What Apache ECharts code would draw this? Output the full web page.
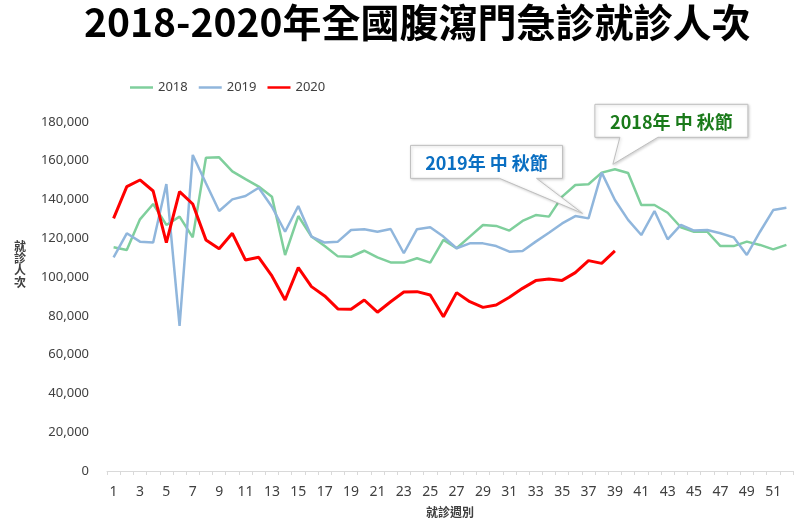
<!DOCTYPE html>
<html>
<head>
<meta charset="utf-8">
<script src="https://cdn.jsdelivr.net/npm/echarts@6/dist/echarts.min.js"></script>
<style>
html,body{margin:0;padding:0;background:#fff;}
#main{width:800px;height:518px;}
</style>
</head>
<body>
<div id="main"></div>
<script>
const weeks = Array.from({length: 52}, (_, i) => String(i + 1));
const seriesNames = ['2018', '2019', '2020'];
const data2018 = [115400,114000,129800,137700,126900,131200,120500,161600,161800,154500,150500,146700,141500,111400,131500,120900,116000,110700,110500,113600,110200,107600,107500,109700,107500,119200,114900,120900,126900,126400,124000,129000,132000,131200,141500,147500,147900,153900,155600,153700,137200,137200,133200,125700,123400,123400,116000,116000,118300,116600,114300,116600];
const data2019 = [110200,122600,118300,117800,148000,74800,163000,148400,134100,140100,141800,146100,136300,123400,136700,120900,117800,118300,124300,124700,123400,124800,112300,124700,125700,120900,114900,117400,117400,116000,113100,113500,118300,122900,127700,131500,130300,153900,139800,129500,121700,134100,119500,126900,124000,124300,122600,120500,111400,123400,134600,135800];
const data2020 = [130300,146700,150100,144400,117800,144100,137700,119200,114600,122600,108800,110200,100600,88200,104900,95100,90300,83600,83400,88200,81900,87300,92300,92500,90800,79600,92000,87300,84400,85600,89600,94200,98200,99000,98300,102300,108500,107100,113500];
const yTicks = {min: 0, max: 180000, interval: 20000};
const titleText = '2018-2020年全國腹瀉門急診就診人次';
const yName = '就診人次';
const xName = '就診週別';
const notes = [
  {text: '2019年 中 秋節', series: 1, week: 37},
  {text: '2018年 中 秋節', series: 0, week: 39}
];

const colors = ['#7fcf9c', '#90b6dc', '#ff0000'];
const chart = echarts.init(document.getElementById('main'));
const font = '"Noto Sans", "Noto Sans CJK TC", sans-serif';

chart.setOption({
  animation: false,
  title: {
    text: titleText,
    left: 79,
    top: -2,
    textStyle: {fontSize: 39, fontWeight: 'bold', color: '#000', fontFamily: '"Noto Sans CJK TC", sans-serif'}
  },
  legend: {
    data: seriesNames,
    left: 125, top: 76,
    icon: 'rect', itemWidth: 23, itemHeight: 2.5, itemGap: 11,
    textStyle: {fontSize: 13, color: '#404040', fontFamily: font}
  },
  grid: {left: 107, right: 7, top: 122, bottom: 47, containLabel: false, outerBoundsMode: 'none'},
  xAxis: {
    type: 'category',
    data: weeks,
    boundaryGap: true,
    name: xName,
    nameLocation: 'middle',
    nameGap: 35,
    nameTextStyle: {fontSize: 12, fontWeight: 'bold', color: '#404040', fontFamily: '"Noto Sans CJK TC", sans-serif'},
    axisLine: {lineStyle: {color: '#d9d9d9'}},
    axisTick: {show: true, interval: 0, length: 4, lineStyle: {color: '#d9d9d9'}},
    axisLabel: {interval: 1, fontSize: 14, color: '#404040', margin: 14, fontFamily: font},
    splitLine: {show: false}
  },
  yAxis: {
    type: 'value',
    min: yTicks.min, max: yTicks.max, interval: yTicks.interval,
    axisLine: {show: false},
    axisTick: {show: false},
    splitLine: {show: false},
    axisLabel: {
      fontSize: 13, color: '#404040', margin: 18, fontFamily: font,
      formatter: v => v.toLocaleString('en-US')
    }
  },
  series: [
    {name: seriesNames[0], type: 'line', data: data2018, symbol: 'none', lineStyle: {width: 2.5, color: colors[0]}, itemStyle: {color: colors[0]}},
    {name: seriesNames[1], type: 'line', data: data2019, symbol: 'none', lineStyle: {width: 2.5, color: colors[1]}, itemStyle: {color: colors[1]}},
    {name: seriesNames[2], type: 'line', data: data2020, symbol: 'none', lineStyle: {width: 3, color: colors[2]}, itemStyle: {color: colors[2]}}
  ]
});

// callouts anchored to data points
const dataSets = [data2018, data2019];
const layouts = [
  {dx: -6, dy: -5, boxDx: -172, boxDy: -68, w: 152, h: 33, b1: 89, b2: 126, color: '#0a6fc2'},
  {dx: -2, dy: -5, boxDx: -18, boxDy: -60, w: 153, h: 33, b1: 25, b2: 63, color: '#1a7a1a'}
];
const graphics = [];
notes.forEach((n, i) => {
  const p = chart.convertToPixel({seriesIndex: n.series}, [n.week - 1, dataSets[n.series][n.week - 1]]);
  const L = layouts[i];
  const tip = [p[0] + L.dx, p[1] + L.dy];
  const x0 = tip[0] + L.boxDx, y0 = tip[1] + L.boxDy;
  graphics.push({
    type: 'polygon',
    shape: {points: [[x0, y0], [x0 + L.w, y0], [x0 + L.w, y0 + L.h], [x0 + L.b2, y0 + L.h], tip, [x0 + L.b1, y0 + L.h], [x0, y0 + L.h]]},
    style: {fill: '#fff', stroke: '#bfbfbf', lineWidth: 1, shadowBlur: 3, shadowColor: 'rgba(0,0,0,0.18)', shadowOffsetX: 1, shadowOffsetY: 1},
    z: 100
  });
  graphics.push({
    type: 'text',
    x: x0 + L.w / 2, y: y0 + L.h / 2 + 1,
    style: {text: n.text, fill: L.color, font: 'bold 18px "Noto Sans CJK TC", sans-serif', textAlign: 'center', textVerticalAlign: 'middle'},
    z: 101
  });
});
graphics.push({
  type: 'text', x: 20, y: 264,
  style: {text: yName.split('').join('\n'), fill: '#404040', font: 'bold 12px "Noto Sans CJK TC", sans-serif', textAlign: 'center', textVerticalAlign: 'middle', lineHeight: 12}
});
chart.setOption({graphic: graphics});
</script>
</body>
</html>
